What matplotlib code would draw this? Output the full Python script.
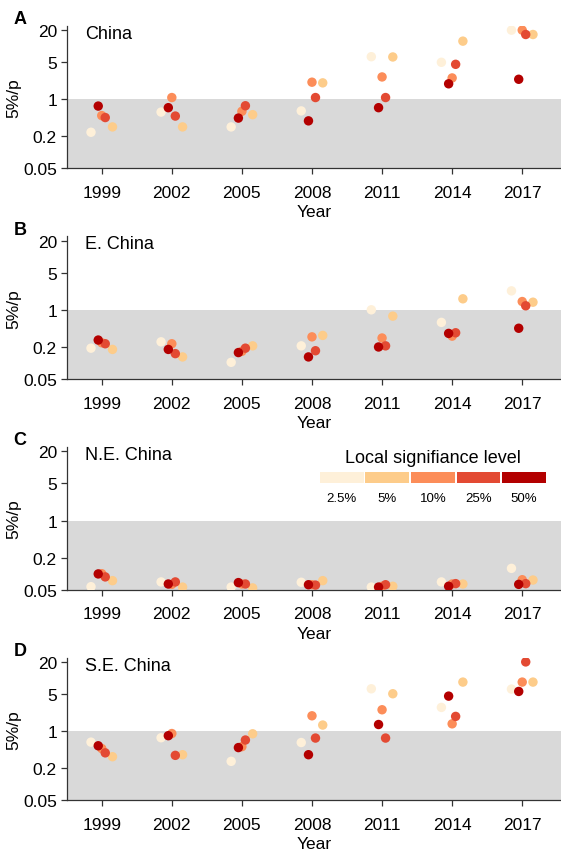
import matplotlib

matplotlib.use("Agg")
import matplotlib.pyplot as plt
import numpy as np

plt.rcParams["font.family"] = ["Liberation Sans", "DejaVu Sans"]

# Data
years = [1999, 2002, 2005, 2008, 2011, 2014, 2017]
levels = ["2.5%", "5%", "10%", "25%", "50%"]
level_colours = ["#fef0d9", "#fdcc8a", "#fc8d59", "#e34a33", "#b30000"]
level_offsets = [-0.46, 0.46, 0.0, 0.15, -0.15]  # horizontal jitter (years)

# rows = significance level (2.5, 5, 10, 25, 50 %), columns = years
china = [
    [0.238, 0.57, 0.30, 0.60, 6.27, 4.92, 19.8],
    [0.30, 0.30, 0.51, 2.02, 6.2, 12.3, 16.4],
    [0.49, 1.07, 0.59, 2.08, 2.61, 2.50, 19.8],
    [0.45, 0.48, 0.75, 1.07, 1.07, 4.51, 16.4],
    [0.74, 0.69, 0.44, 0.39, 0.69, 1.94, 2.36],
]
e_china = [
    [0.19, 0.25, 0.103, 0.21, 1.0, 0.58, 2.27],
    [0.18, 0.13, 0.21, 0.33, 0.76, 1.61, 1.39],
    [0.24, 0.23, 0.166, 0.31, 0.295, 0.32, 1.43],
    [0.23, 0.15, 0.19, 0.17, 0.21, 0.37, 1.19],
    [0.27, 0.18, 0.157, 0.13, 0.20, 0.36, 0.45],
]
ne_china = [
    [0.057, 0.07, 0.056, 0.069, 0.056, 0.07, 0.126],
    [0.074, 0.056, 0.054, 0.074, 0.058, 0.064, 0.076],
    [0.10, 0.063, 0.064, 0.062, 0.058, 0.064, 0.077],
    [0.087, 0.07, 0.064, 0.061, 0.062, 0.065, 0.065],
    [0.099, 0.064, 0.068, 0.062, 0.056, 0.058, 0.063],
]
se_china = [
    [0.62, 0.75, 0.27, 0.61, 6.25, 2.79, 6.17],
    [0.33, 0.36, 0.89, 1.30, 5.04, 8.35, 8.35],
    [0.47, 0.90, 0.51, 1.94, 2.52, 1.37, 8.35],
    [0.39, 0.35, 0.68, 0.74, 0.74, 1.89, 20.0],
    [0.53, 0.82, 0.49, 0.36, 1.33, 4.55, 5.57],
]

panels = [
    ("A", "China", china),
    ("B", "E. China", e_china),
    ("C", "N.E. China", ne_china),
    ("D", "S.E. China", se_china),
]

y_ticks = [0.05, 0.2, 1, 5, 20]
y_tick_labels = ["0.05", "0.2", "1", "5", "20"]
threshold = 1

W, H = 561, 854
fig = plt.figure(figsize=(W / 100, H / 100), dpi=100)

ax_left = 66.7 / W
ax_width = 1 - ax_left
ax_height = 142.6 / H
spine_y = [169.3, 380.0, 590.7, 801.3]  # pixel rows of the x axis in each panel

spine_colour = "#333333"

for (letter, region, values), sy in zip(panels, spine_y):
    ax = fig.add_axes([ax_left, 1 - sy / H, ax_width, ax_height])

    ax.set_yscale("log")
    ax.set_ylim(0.05, 24)
    ax.set_xlim(1997.5, 2018.66)

    # Shade the non-significant region
    ax.axhspan(0.05, threshold, color="#d9d9d9", lw=0, zorder=0)

    for vals, colour, offset in zip(values, level_colours, level_offsets):
        ax.scatter(
            np.array(years) + offset,
            vals,
            s=46,
            color=colour,
            edgecolors="none",
            zorder=3,
        )

    ax.set_xticks(years)
    ax.set_xticklabels([str(y) for y in years])
    ax.set_yticks(y_ticks)
    ax.set_yticklabels(y_tick_labels)
    ax.minorticks_off()

    ax.tick_params(
        axis="both", labelsize=12.5, length=4, width=0.9, color=spine_colour
    )
    ax.tick_params(axis="x", pad=8)
    ax.tick_params(axis="y", pad=3)

    for side in ["top", "right"]:
        ax.spines[side].set_visible(False)
    for side in ["left", "bottom"]:
        ax.spines[side].set_color(spine_colour)
        ax.spines[side].set_linewidth(0.9)

    ax.set_xlabel("Year", fontsize=12.5, labelpad=3)
    ax.set_ylabel("5%/p", fontsize=12.5, labelpad=1)

    ax.text(0.038, 0.947, region, transform=ax.transAxes, fontsize=13,
            ha="left", va="center")
    ax.text(-0.0945, 1.05, letter, transform=ax.transAxes, fontsize=13,
            fontweight="bold", ha="center", va="center")

# Colour key for the significance levels (inside panel C)
leg = fig.add_axes([319 / W, 1 - 484.3 / H, 227.7 / W, 11.6 / H])
leg.bar(range(len(levels)), 1, width=0.96, color=level_colours)
leg.set_xlim(-0.5, len(levels) - 0.5)
leg.set_ylim(0, 1)
leg.axis("off")
for i, lab in enumerate(levels):
    leg.text(i, -1.28, lab, transform=leg.get_xaxis_transform(), fontsize=9.5,
             ha="center", va="center")
leg.text(0.5, 2.22, "Local signifiance level", transform=leg.transAxes,
         fontsize=13, ha="center", va="center")

fig.savefig("out.png", dpi=100)
